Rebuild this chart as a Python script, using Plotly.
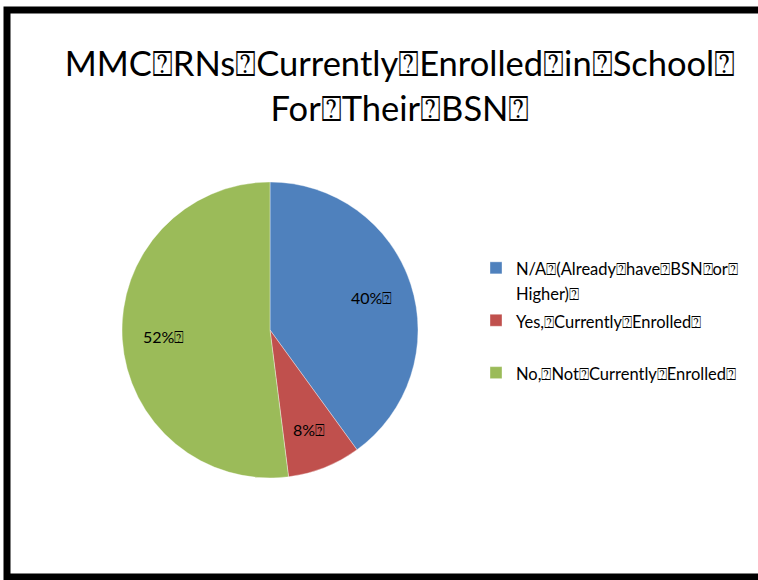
import math
import plotly.graph_objects as go

W, H = 758, 580
BOX = "\u2370"  # glyph used where the source text had its spaces replaced

categories = [
    f"N/A{BOX}(Already{BOX}have{BOX}BSN{BOX}or{BOX}<br>Higher){BOX}",
    f"Yes,{BOX}Currently{BOX}Enrolled{BOX}<br> ",
    f"No,{BOX}Not{BOX}Currently{BOX}Enrolled{BOX}",
]
values = [40, 8, 52]
colors = ["#4F81BD", "#C0504D", "#9BBB59"]
title_lines = [
    f"MMC{BOX}RNs{BOX}Currently{BOX}Enrolled{BOX}in{BOX}School{BOX}",
    f"For{BOX}Their{BOX}BSN{BOX}",
]

FONT = "Lato, 'Open Sans', sans-serif"
LEGEND_TEXT = 16.5


def legend_label(s):
    # wrap every line in a span so glyphs stay small while lines stay widely spaced
    return "<br>".join(
        f"<span style='font-size:{LEGEND_TEXT}px'>{part}</span>" for part in s.split("<br>")
    )


# pie centre and radius in pixels
cx, cy, r = 270, 330, 148

fig = go.Figure(
    go.Pie(
        labels=[legend_label(c) for c in categories],
        values=values,
        sort=False,
        direction="clockwise",
        rotation=0,
        marker=dict(colors=colors, line=dict(color="rgba(255,255,255,0.6)", width=0.6)),
        textinfo="none",
        domain=dict(
            x=[(cx - r) / W, (cx + r) / W],
            y=[(H - cy - r) / H, (H - cy + r) / H],
        ),
        hoverinfo="percent",
    )
)

# percentage labels placed along each slice's middle angle
total = sum(values)
start = 0.0
annotations = []
for v in values:
    mid = (start + v / 2) / total * 2 * math.pi
    start += v
    rr = 0.72 * r
    px = cx + rr * math.sin(mid)
    py = cy - rr * math.cos(mid)
    annotations.append(
        dict(
            x=px / W,
            y=1 - py / H,
            xref="paper",
            yref="paper",
            text=f"{round(v / total * 100)}%{BOX}",
            showarrow=False,
            xanchor="center",
            yanchor="middle",
            font=dict(family=FONT, size=16, color="black"),
        )
    )

fig.update_layout(
    width=W,
    height=H,
    margin=dict(l=0, r=0, t=0, b=0),
    paper_bgcolor="white",
    plot_bgcolor="white",
    font=dict(family=FONT, color="black"),
    title=dict(
        text="<br>".join(title_lines),
        x=400 / W,
        xanchor="center",
        y=1 - 76 / H,
        yanchor="top",
        font=dict(family=FONT, size=34.5, color="black"),
    ),
    legend=dict(
        x=476 / W,
        y=1 - 249 / H,
        xanchor="left",
        yanchor="top",
        valign="top",
        font=dict(family=FONT, size=19, color="black"),
        itemwidth=30,
        bgcolor="rgba(0,0,0,0)",
    ),
    annotations=annotations,
    shapes=[
        dict(
            type="rect",
            xref="paper",
            yref="paper",
            x0=7 / W,
            x1=(W + 10) / W,
            y0=(H - 577) / H,
            y1=(H - 10) / H,
            line=dict(color="black", width=7),
            fillcolor="rgba(0,0,0,0)",
        )
    ],
)

fig.write_html("out.html")
